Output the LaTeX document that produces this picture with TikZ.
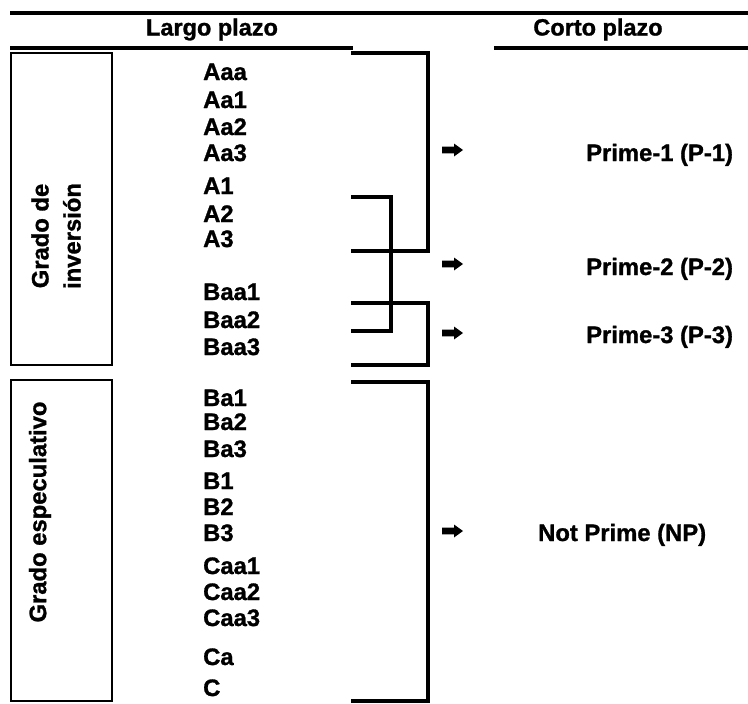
\documentclass[tikz,border=0pt]{standalone}
\usepackage{fontspec}
\setmainfont{Liberation Sans}[BoldFeatures={FakeBold=1.2}]
\begin{document}
\begin{tikzpicture}[x=1pt,y=-1pt,
  lbl/.style={inner sep=0pt,anchor=base west,font=\fontsize{23.8}{28}\selectfont\bfseries},
  hdr/.style={inner sep=0pt,anchor=base,font=\fontsize{23.5}{28}\selectfont\bfseries},
  rot/.style={inner sep=0pt,rotate=90,align=center,font=\fontsize{23.8}{32}\selectfont\bfseries},
  rule/.style={line width=3.5pt},
  brk/.style={line width=3.5pt,line cap=rect},
  boxframe/.style={draw,line width=2.2pt,inner sep=0pt}]
\useasboundingbox (0,0) rectangle (748,704);
% header rules
\coordinate (t1) at (10,13); \coordinate (t2) at (748,13);
\draw[rule] (t1) -- (t2);
\node[hdr] (largo) at (212,35.5) {Largo plazo};
\node[hdr] (corto) at (598,35.5) {Corto plazo};
\coordinate (l1) at (10,48); \coordinate (l2) at (353,48);
\draw[rule] (l1) -- (l2);
\coordinate (c1) at (494,48); \coordinate (c2) at (748,48);
\draw[rule] (c1) -- (c2);
% boxes
\node[boxframe,minimum width=101pt,minimum height=312pt] (box1) at (61.5,209) {};
\node[rot] (inv) at (56,236) {Grado de\\inversión};
\node[boxframe,minimum width=101pt,minimum height=321pt] (box2) at (61.5,540.5) {};
\node[rot] (esp) at (40,512) {Grado especulativo};
% ratings
\node[lbl] (Aaa) at (203,80) {Aaa};
\node[lbl] (Aa1) at (203,108) {Aa1};
\node[lbl] (Aa2) at (203,135) {Aa2};
\node[lbl] (Aa3) at (203,161) {Aa3};
\node[lbl] (A1) at (203,194) {A1};
\node[lbl] (A2) at (203,222) {A2};
\node[lbl] (A3) at (203,247) {A3};
\node[lbl] (Baa1) at (203,300) {Baa1};
\node[lbl] (Baa2) at (203,328) {Baa2};
\node[lbl] (Baa3) at (203,355) {Baa3};
\node[lbl] (Ba1) at (203,406) {Ba1};
\node[lbl] (Ba2) at (203,430) {Ba2};
\node[lbl] (Ba3) at (203,457) {Ba3};
\node[lbl] (B1) at (203,489) {B1};
\node[lbl] (B2) at (203,515) {B2};
\node[lbl] (B3) at (203,541) {B3};
\node[lbl] (Caa1) at (203,574) {Caa1};
\node[lbl] (Caa2) at (203,600) {Caa2};
\node[lbl] (Caa3) at (203,626) {Caa3};
\node[lbl] (Ca) at (203,665) {Ca};
\node[lbl] (C) at (203,696) {C};
% brackets
\coordinate (b1a) at (353,53); \coordinate (b1b) at (428,53);
\coordinate (b1c) at (428,251); \coordinate (b1d) at (353,251);
\draw[brk] (b1a) -- (b1b) -- (b1c) -- (b1d);
\coordinate (b2a) at (353,197); \coordinate (b2b) at (391,197);
\coordinate (b2c) at (391,331); \coordinate (b2d) at (353,331);
\draw[brk] (b2a) -- (b2b) -- (b2c) -- (b2d);
\coordinate (b3a) at (353,303); \coordinate (b3b) at (428,303);
\coordinate (b3c) at (428,365); \coordinate (b3d) at (353,365);
\draw[brk] (b3a) -- (b3b) -- (b3c) -- (b3d);
\coordinate (b4a) at (353,382); \coordinate (b4b) at (428,382);
\coordinate (b4c) at (428,701); \coordinate (b4d) at (353,701);
\draw[brk] (b4a) -- (b4b) -- (b4c) -- (b4d);
% block arrows
\tikzset{blockarrow/.pic={\fill (0,-3.3) -- (12,-3.3) -- (12,-6.5) -- (21,0) -- (12,6.5) -- (12,3.3) -- (0,3.3) -- cycle;}}
\pic (ar1) at (442,150) {blockarrow};
\pic (ar2) at (442,264) {blockarrow};
\pic (ar3) at (442,333) {blockarrow};
\pic (ar4) at (442,531) {blockarrow};
% short-term ratings
\node[lbl] (P1) at (586,161) {Prime-1 (P-1)};
\node[lbl] (P2) at (586,275) {Prime-2 (P-2)};
\node[lbl] (P3) at (586,343) {Prime-3 (P-3)};
\node[lbl] (NP) at (538,541) {Not Prime (NP)};
\end{tikzpicture}
\end{document}
